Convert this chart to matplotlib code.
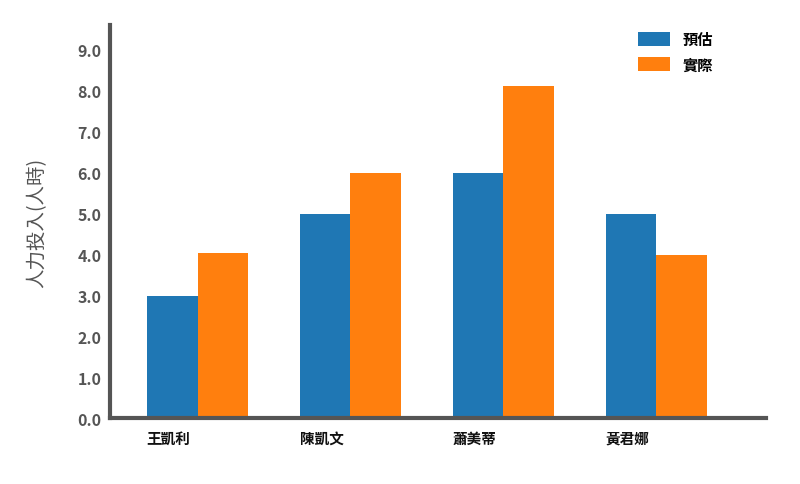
import numpy as np
import matplotlib.pyplot as plt

plt.rcParams['font.family'] = ['Noto Sans CJK TC', 'DejaVu Sans']

names = ['王凱利', '陳凱文', '蕭美蒂', '黃君娜']
estimate = [3.0, 5.0, 6.0, 5.0]
actual = [4.05, 6.0, 8.13, 4.0]
y_ticks = np.arange(0, 10, 1.0)

fig = plt.figure(figsize=(8, 4.85), dpi=100)
ax = fig.add_axes([0.1375, 0.1355, 0.82, 0.81])

x = np.arange(len(names))
w = 0.333
ax.bar(x - w / 2, estimate, w, color='#1f77b4', label='預估')
ax.bar(x + w / 2, actual, w, color='#ff7f0e', label='實際')

ax.set_xlim(-0.572, 3.716)
ax.set_ylim(0, 9.6)
ax.set_yticks(y_ticks)
ax.set_yticklabels([f'{v:.1f}' for v in y_ticks], color='#555555',
                   fontsize=11.5, fontweight='bold')
ax.set_xticks(x - w)
ax.set_xticklabels(names, ha='left', fontsize=10.5, fontweight='bold', color='#111111')
ax.tick_params(length=0, pad=6)
ax.tick_params(axis='x', pad=8)

for s in ['top', 'right']:
    ax.spines[s].set_visible(False)
for s in ['left', 'bottom']:
    ax.spines[s].set_color('#555555')
    ax.spines[s].set_linewidth(3)

ax.set_ylabel('人力投入(人時)', color='#555555', fontsize=14, fontweight='medium', labelpad=22)

ax.legend(loc='upper right', bbox_to_anchor=(0.94, 1.02), frameon=False,
          handlelength=2.1, handleheight=1.0, labelspacing=0.6,
          prop={'weight': 'bold', 'size': 11})

fig.savefig('out.png', dpi=100)
